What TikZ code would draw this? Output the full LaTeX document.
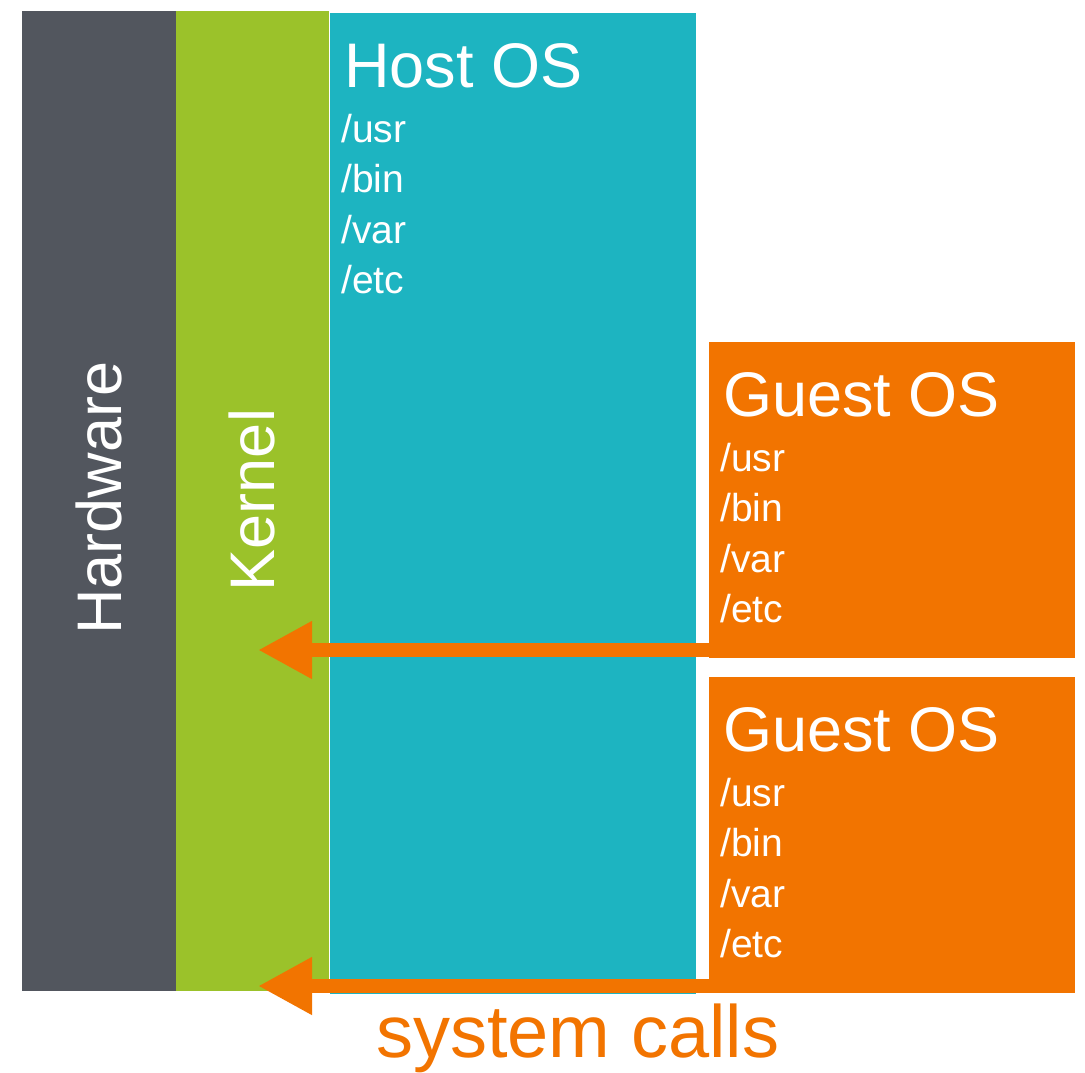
\documentclass[tikz,border=0pt]{standalone}
\usepackage{fontspec}
\setmainfont{Liberation Sans}
\usetikzlibrary{arrows.meta}

\definecolor{hwgray}{HTML}{52565E}
\definecolor{kernelgreen}{HTML}{9BC22A}
\definecolor{hostteal}{HTML}{1DB4C1}
\definecolor{guestorange}{HTML}{F27400}

\begin{document}
\begin{tikzpicture}[x=1pt, y=-1pt,
	layer/.style={anchor=north west, inner sep=0, outer sep=0},
	bigtext/.style={inner sep=0, text=white, font=\fontsize{63}{63}\selectfont},
	dirtext/.style={inner sep=0, anchor=base west, text=white, font=\fontsize{39}{39}\selectfont},
	syscall/.style={draw=guestorange, line width=14pt, -{Triangle[length=54pt, width=54pt]}}]

	\useasboundingbox[fill=white] (0,0) rectangle (1085,1072);

	%Schichten
	\node [layer, fill=hwgray, minimum width=154pt, minimum height=980pt] (hardware) at (22,11) {};
	\node [layer, fill=kernelgreen, minimum width=153pt, minimum height=980pt] (kernel) at (176,11) {};
	\node [layer, fill=hostteal, minimum width=366pt, minimum height=981pt] (host) at (330,13) {};
	\node [layer, fill=guestorange, minimum width=366pt, minimum height=316pt] (guestA) at (709,342) {};
	\node [layer, fill=guestorange, minimum width=366pt, minimum height=316pt] (guestB) at (709,677) {};

	%Beschriftung
	\node [bigtext, rotate=90] (hwlabel) at (99,498) {Hardware};
	\node [bigtext, rotate=90] (kernellabel) at (252,500) {Kernel};
	\foreach \os/\title in {host/Host OS, guestA/Guest OS, guestB/Guest OS}
	{
		\node [bigtext, anchor=base west] (\os-title) at ([shift={(14,74)}]\os.north west) {\title};
		\foreach \d [count=\k from 0] in {usr, bin, var, etc}
		{
			\node [dirtext] (\os-\d) at ([shift={(11,129+50.5*\k)}]\os.north west) {/\d};
		}
	}

	%Systemaufrufe
	\coordinate (callA) at (258,650);
	\coordinate (callB) at (258,986);
	\draw [syscall] (guestA.west |- callA) -- (callA);
	\draw [syscall] (guestB.west |- callB) -- (callB);
	\node [anchor=base west, inner sep=0, text=guestorange, font=\fontsize{74}{74}\selectfont] (calls) at (376,1057) {system calls};

\end{tikzpicture}
\end{document}
